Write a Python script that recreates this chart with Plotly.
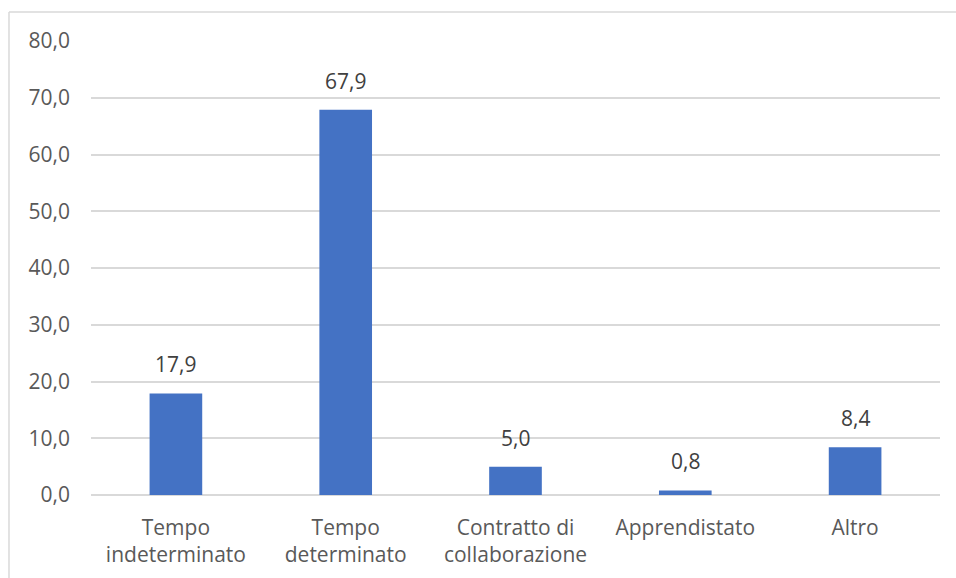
import plotly.graph_objects as go

categories = ["Tempo<br>indeterminato", "Tempo<br>determinato", "Contratto di<br>collaborazione",
              "Apprendistato", "Altro"]
values = [17.9, 67.9, 5.0, 0.8, 8.4]
y_ticks = [0, 10, 20, 30, 40, 50, 60, 70, 80]

FONT = "Open Sans"
FSIZE = 21
BAR_COLOR = "#4472C4"
AXIS_TEXT = "#595959"
LABEL_TEXT = "#404040"
GRID = "#D9D9D9"

fig = go.Figure()
fig.add_trace(go.Bar(
    x=categories,
    y=values,
    marker=dict(color=BAR_COLOR, line=dict(width=0)),
    hoverinfo="x+y",
))

# Value labels above each bar
for cat, val in zip(categories, values):
    fig.add_annotation(
        x=cat, y=val, xref="x", yref="y",
        text=f"{val:.1f}".replace(".", ","),
        showarrow=False, yanchor="bottom", yshift=13,
        font=dict(family=FONT, size=FSIZE, color=LABEL_TEXT),
    )

# Chart frame (left and top edges)
fig.add_shape(type="line", xref="paper", yref="paper",
              x0=-0.0966, x1=-0.0966, y0=-0.25, y1=1.064,
              line=dict(color=GRID, width=1.5))
fig.add_shape(type="line", xref="paper", yref="paper",
              x0=-0.0966, x1=1.05, y0=1.064, y1=1.064,
              line=dict(color=GRID, width=1.5))

fig.update_layout(
    width=956, height=578,
    margin=dict(l=91, r=16, t=41, b=83),
    paper_bgcolor="white", plot_bgcolor="white",
    separators=",.",
    bargap=0.69,
    showlegend=False,
    font=dict(family=FONT, size=FSIZE, color=AXIS_TEXT),
    xaxis=dict(
        showgrid=False, showline=False, zeroline=False, automargin=False,
        ticks="", ticklabelstandoff=18,
        tickfont=dict(family=FONT, size=FSIZE, color=AXIS_TEXT),
    ),
    yaxis=dict(
        range=[0, 80], tickvals=y_ticks, tickformat=".1f", automargin=False,
        showgrid=True, gridcolor=GRID, gridwidth=1.5,
        zeroline=True, zerolinecolor=GRID, zerolinewidth=1.5,
        showline=False, ticks="", ticklabelstandoff=20,
        tickfont=dict(family=FONT, size=FSIZE, color=AXIS_TEXT),
    ),
)

fig.write_html("out.html")
